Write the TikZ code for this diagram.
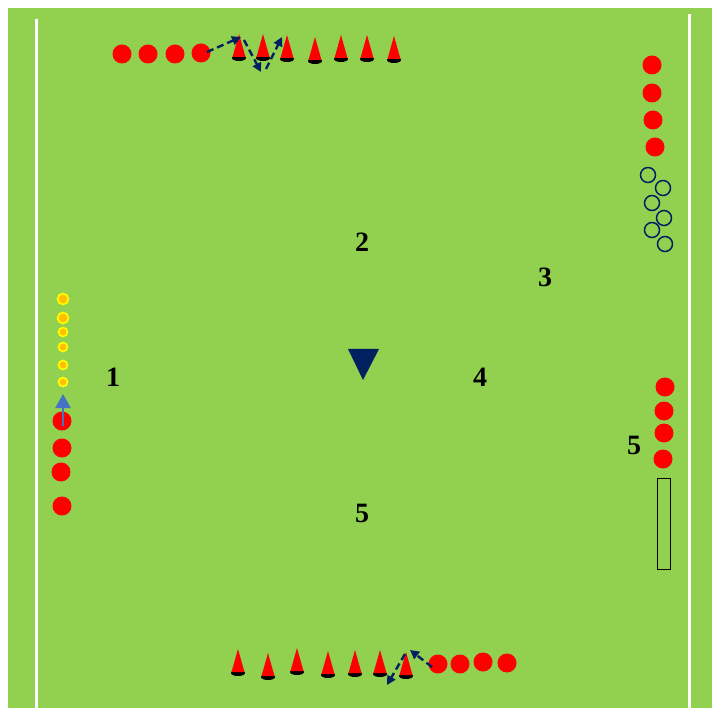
\documentclass[tikz,border=0pt]{standalone}
\usepackage{fontspec}
\setmainfont{Liberation Serif}
\usetikzlibrary{arrows.meta}
\definecolor{pitch}{HTML}{92D050}
\definecolor{navy}{HTML}{002060}
\definecolor{ballred}{HTML}{FF0000}
\definecolor{arrowblue}{HTML}{4472C4}
\definecolor{ballyellow}{HTML}{FFFF00}
\definecolor{ballorange}{HTML}{FFC000}
\tikzset{
  ball/.style={circle, fill=ballred, inner sep=0pt, minimum size=19pt},
  ringball/.style={circle, draw=navy, line width=1.5pt, inner sep=0pt, minimum size=15pt},
  smallball/.style={circle, fill=ballorange, draw=ballyellow, line width=1.6pt, inner sep=0pt, minimum size=#1},
  num/.style={font=\fontsize{28}{28}\selectfont\bfseries, inner sep=0pt},
  move/.style={navy, line width=2.4pt, dash pattern=on 7pt off 4pt, -{Triangle[length=9pt,width=9pt]}},
  touch/.style={white, line width=3pt},
  cone/.pic={
    \fill[black] (0,1) ellipse [x radius=7, y radius=3];
    \fill[ballred] (-6.5,0) -- (0,-23) -- (6.5,0) -- cycle;
  }
}
\begin{document}
\begin{tikzpicture}[x=1pt,y=-1pt]
\useasboundingbox (0,0) rectangle (712,708);
\fill[white] (0,0) rectangle (712,708);
\fill[pitch] (8,8) rectangle (712,708);
\draw[touch] (36,19) -- (36,708);
\draw[touch] (689,14) -- (689,708);

% top row
\node[ball] (t1) at (122,54) {};
\node[ball] (t2) at (148,54) {};
\node[ball] (t3) at (175,54) {};
\node[ball] (t4) at (201,53) {};
\foreach \x/\y in {239/57,263/57,287/58,315/60,341/58,367/58,394/59} \pic at (\x,\y) {cone};
\coordinate (ta) at (207,52);
\coordinate (tb) at (241,37);
\coordinate (tc) at (244,40);
\coordinate (td) at (261,72);
\coordinate (te) at (266,69);
\coordinate (tf) at (282,37);
\draw[move] (ta) -- (tb);
\draw[move] (tc) -- (td);
\draw[move] (te) -- (tf);

% bottom row
\foreach \x/\y in {238/672,268/676,297/671,328/674,355/673,380/673,406/675} \pic at (\x,\y) {cone};
\node[ball] (b1) at (438,664) {};
\node[ball] (b2) at (460,664) {};
\node[ball] (b3) at (483,662) {};
\node[ball] (b4) at (507,663) {};
\coordinate (ba) at (432,667);
\coordinate (bb) at (410,650);
\coordinate (bc) at (405,654);
\coordinate (bd) at (387,685);
\draw[move] (ba) -- (bb);
\draw[move] (bc) -- (bd);

% left side
\node[smallball=11pt] (y1) at (63,299) {};
\node[smallball=11pt] (y2) at (63,318) {};
\node[smallball=9pt] (y3) at (63,332) {};
\node[smallball=9pt] (y4) at (63,347) {};
\node[smallball=9pt] (y5) at (63,365) {};
\node[smallball=9pt] (y6) at (63,382) {};
\node[ball] (l1) at (62,421) {};
\node[ball] (l2) at (62,448) {};
\node[ball] (l3) at (61,472) {};
\node[ball] (l4) at (62,506) {};
\coordinate (la) at (63,426);
\coordinate (lb) at (63,394);
\draw[arrowblue, line width=2.2pt, -{Triangle[length=14pt,width=15pt]}] (la) -- (lb);

% right top
\node[ball] (r1) at (652,65) {};
\node[ball] (r2) at (652,93) {};
\node[ball] (r3) at (653,120) {};
\node[ball] (r4) at (655,147) {};
\node[ringball] (o1) at (648,175) {};
\node[ringball] (o2) at (663,188) {};
\node[ringball] (o3) at (652,203) {};
\node[ringball] (o4) at (664,218) {};
\node[ringball] (o5) at (652,230) {};
\node[ringball] (o6) at (665,244) {};

% right bottom
\node[ball] (s1) at (665,387) {};
\node[ball] (s2) at (664,411) {};
\node[ball] (s3) at (664,433) {};
\node[ball] (s4) at (663,459) {};
\node[draw=black, line width=1pt, minimum width=13pt, minimum height=91pt, inner sep=0pt] (goal) at (664,523.5) {};

% centre marker
\fill[navy] (348,349) -- (379,349) -- (363,380) -- cycle;

% numbers
\node[num] (n1) at (113,377) {1};
\node[num] (n2) at (362,242) {2};
\node[num] (n3) at (545,277) {3};
\node[num] (n4) at (480,377) {4};
\node[num] (n5) at (362,513) {5};
\node[num] (n6) at (634,445) {5};
\end{tikzpicture}
\end{document}
